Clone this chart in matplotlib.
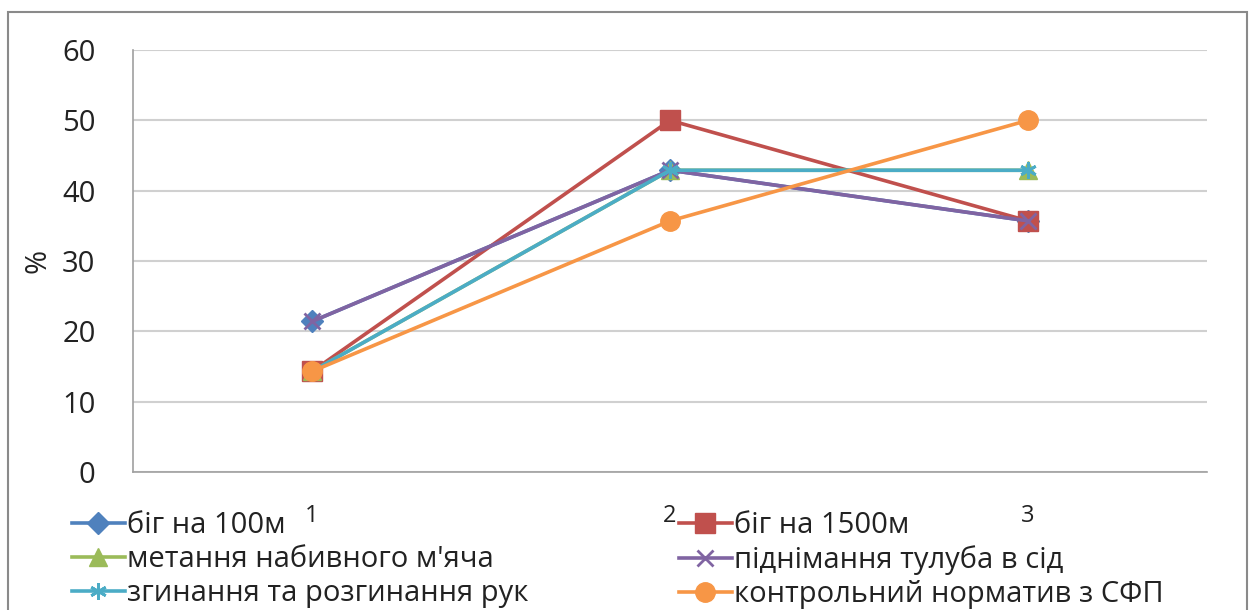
import matplotlib.pyplot as plt
from matplotlib.patches import Rectangle

plt.rcParams['font.family'] = ['Open Sans', 'DejaVu Sans']

stages = [1, 2, 3]
tick_labels = ["1", "2", "3"]

run_100 = [21.4, 42.9, 35.7]
run_1500 = [14.3, 50.0, 35.7]
ball_throw = [14.3, 42.9, 42.9]
sit_ups = [21.4, 42.9, 35.7]
push_ups = [14.3, 42.9, 42.9]
control = [14.3, 35.7, 50.0]

series = [
    ("біг на 100м", run_100, "#4F81BD", "D", 11),
    ("біг на 1500м", run_1500, "#C0504D", "s", 14),
    ("метання набивного м'яча", ball_throw, "#9BBB59", "^", 13),
    ("піднімання тулуба в сід", sit_ups, "#8064A2", "x", 12),
    ("згинання та розгинання рук", push_ups, "#4BACC6", "*", 12),
    ("контрольний норматив з СФП", control, "#F79646", "o", 14),
]

fig = plt.figure(figsize=(12.53, 6.10), dpi=100)
W, H = 1253, 610

# outer chart frame (bottom runs off the page)
fig.patches.append(Rectangle((8 / W, -0.05), (1247 - 8) / W, 1.05 - 12 / H,
                             transform=fig.transFigure, fill=False,
                             edgecolor="#8a8a8a", linewidth=1.5))

ax = fig.add_axes([133 / W, 1 - 472 / H, (1207 - 133) / W, (472 - 50) / H])

handles = []
for label, vals, color, marker, ms in series:
    if marker in ("x", "*"):
        # cross-style markers drawn as outline strokes
        mk = "x" if marker == "x" else (6, 2, 0)
        (h,) = ax.plot(stages, vals, color=color, linewidth=2.6, marker=mk,
                       markersize=ms, markeredgewidth=2, markerfacecolor=color,
                       markeredgecolor=color, label=label)
    else:
        (h,) = ax.plot(stages, vals, color=color, linewidth=2.6, marker=marker,
                       markersize=ms, markerfacecolor=color,
                       markeredgecolor=color, label=label)
    handles.append(h)

ax.set_xlim(0.5, 3.5)
ax.set_ylim(0, 60)
ax.set_yticks(range(0, 61, 10))
ax.set_xticks(stages)
ax.set_xticklabels(tick_labels)
ax.yaxis.grid(True, color="#d0d0d0", linewidth=1.5)
ax.set_axisbelow(True)
for side in ("top", "right"):
    ax.spines[side].set_visible(False)
for side in ("left", "bottom"):
    ax.spines[side].set_color("#a0a0a0")
    ax.spines[side].set_linewidth(1.2)
ax.tick_params(axis="y", length=0, pad=27, labelsize=21, labelcolor="#222222")
ax.tick_params(axis="x", length=0, pad=23, labelsize=17, labelcolor="#222222")
ax.set_ylabel("%", fontsize=21, color="#222222")
ax.yaxis.set_label_coords(-0.075, 0.5)

common = dict(frameon=False, fontsize=21, handlelength=1.8, handletextpad=0.1,
              labelspacing=0.17, borderpad=0, borderaxespad=0, labelcolor="#222222")
fig.legend([handles[i] for i in (0, 2, 4)], [series[i][0] for i in (0, 2, 4)],
           loc="upper left", bbox_to_anchor=(72 / W, 1 - 511 / H), **common)
fig.legend([handles[i] for i in (1, 3, 5)], [series[i][0] for i in (1, 3, 5)],
           loc="upper left", bbox_to_anchor=(679 / W, 1 - 511 / H), **common)

fig.savefig("out.png", dpi=100)
